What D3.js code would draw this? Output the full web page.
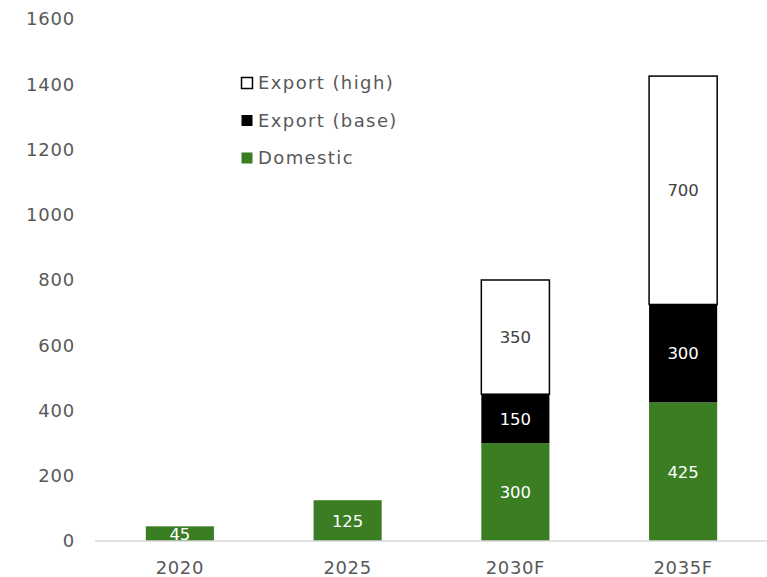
<!DOCTYPE html>
<html><head><meta charset="utf-8">
<script src="https://cdn.jsdelivr.net/npm/d3@7"></script>
<style>body{margin:0;background:#fff;} text{font-family:"DejaVu Sans",sans-serif;}</style>
</head><body>
<svg id="c" width="767" height="577"></svg>
<script>
const categories = ["2020","2025","2030F","2035F"];
const domestic = [45,125,300,425];
const exportBase = [0,0,150,300];
const exportHigh = [0,0,350,700];
const yTicks = [0,200,400,600,800,1000,1200,1400,1600];
const seriesNames = ["Domestic","Export (base)","Export (high)"];

const FONT = "'DejaVu Sans',sans-serif";
const svg = d3.select("#c");
const x = d3.scaleBand().domain(categories).range([96,767]).paddingInner(0.594).paddingOuter(0.297);
const y = d3.scaleLinear().domain([0,1600]).range([541,19]);
const textColor = "#595959";
const fills = {"Domestic":"#3a7d22","Export (base)":"#000000","Export (high)":"#ffffff"};
const labelColors = {"Domestic":"#ffffff","Export (base)":"#ffffff","Export (high)":"#404040"};

const rows = categories.map((c,i)=>({cat:c,"Domestic":domestic[i],"Export (base)":exportBase[i],"Export (high)":exportHigh[i]}));
const stack = d3.stack().keys(seriesNames)(rows);

// y axis labels
const yAxis = d3.axisLeft(y).tickValues(yTicks).tickFormat(d3.format("d")).tickSize(0).tickPadding(0);
const gy = svg.append("g").attr("transform","translate(75,0)").call(yAxis);
gy.select(".domain").remove();
gy.selectAll("text").attr("font-size",18).attr("fill",textColor).attr("font-family",FONT).attr("letter-spacing",0.8);

// bars
stack.forEach(s=>{
  const g = svg.append("g");
  s.forEach((d,i)=>{
    const v = d[1]-d[0];
    if(v<=0) return;
    const name = s.key;
    g.append("rect")
      .attr("x",x(d.data.cat)).attr("width",x.bandwidth())
      .attr("y",y(d[1])).attr("height",y(d[0])-y(d[1]))
      .attr("fill",fills[name])
      .attr("stroke",name==="Export (high)"?"#000":"none")
      .attr("stroke-width",name==="Export (high)"?1.5:0);
    g.append("text")
      .attr("x",x(d.data.cat)+x.bandwidth()/2)
      .attr("y",(y(d[0])+y(d[1]))/2)
      .attr("dy","0.36em").attr("text-anchor","middle")
      .attr("font-size",16.5).attr("fill",labelColors[name])
      .text(v);
  });
});

// x axis
const xAxis = d3.axisBottom(x).tickSize(0).tickPadding(0);
const gx = svg.append("g").attr("transform","translate(0,541)").call(xAxis);
gx.select(".domain").attr("stroke","#d9d9d9").attr("stroke-width",1.5).attr("d","M95,0H767");
gx.selectAll("text").attr("font-size",18).attr("font-family",FONT).attr("fill",textColor).attr("dy",null).attr("y",33).attr("letter-spacing",0.6);

// legend
const legendItems = ["Export (high)","Export (base)","Domestic"];
const lg = svg.append("g");
legendItems.forEach((n,i)=>{
  const cy = 83 + i*37.5;
  lg.append("rect").attr("x",241.5).attr("y",cy-5.5).attr("width",11).attr("height",11)
    .attr("fill",fills[n]).attr("stroke",n==="Export (high)"?"#000":"none").attr("stroke-width",1.5);
  lg.append("text").attr("x",258).attr("y",cy).attr("dy","0.36em").attr("font-size",18).attr("letter-spacing",1.4).attr("fill",textColor).text(n);
});
</script>
</body></html>
